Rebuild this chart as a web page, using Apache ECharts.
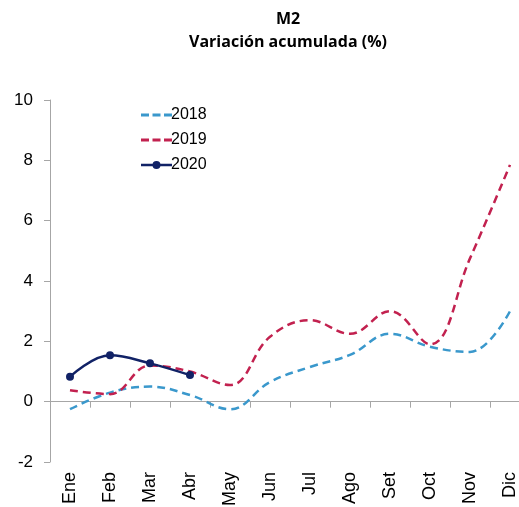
<!DOCTYPE html>
<html>
<head>
<meta charset="utf-8">
<script src="https://cdn.jsdelivr.net/npm/echarts@6/dist/echarts.min.js"></script>
<style>
  html, body { margin: 0; padding: 0; background: #fff; }
  #chart { width: 519px; height: 507px; }
</style>
</head>
<body>
<div id="chart"></div>
<script>
const meses = ['Ene', 'Feb', 'Mar', 'Abr', 'May', 'Jun', 'Jul', 'Ago', 'Set', 'Oct', 'Nov', 'Dic']
const data2018 = [-0.25, 0.3, 0.5, 0.22, -0.25, 0.65, 1.15, 1.55, 2.25, 1.82, 1.65, 3.0]
const data2019 = [0.38, 0.25, 1.2, 1.0, 0.55, 2.15, 2.7, 2.25, 3.0, 1.9, 4.75, 7.85]
const data2020 = [0.83, 1.54, 1.27, 0.88]
const yTicks = { min: -2, max: 10, interval: 2 }

// iconos de leyenda: linea discontinua / linea con punto
const iconDash = 'path://M0,0h8v3h-8z M11.5,0h8v3h-8z M23,0h8v3h-8z'
const iconDot = 'path://M0,3h12v2.5h-12z M19,3h12v2.5h-12z M11.5,4.25a4,4 0 1,1 8,0a4,4 0 1,1 -8,0z'

const chart = echarts.init(document.getElementById('chart'))
const axisColor = '#a6a6a6'
const option = {
  animation: false,
  title: {
    text: 'M2',
    subtext: 'Variación acumulada (%)',
    left: 283,
    textAlign: 'center',
    top: 6,
    itemGap: 7,
    textStyle: { fontFamily: 'Open Sans', fontWeight: 'bold', fontSize: 16, color: '#000' },
    subtextStyle: { fontFamily: 'Open Sans', fontWeight: 'bold', fontSize: 16, color: '#000' }
  },
  legend: {
    orient: 'vertical',
    left: 136,
    top: 102,
    itemWidth: 31,
    itemHeight: 14,
    itemGap: 9,
    textStyle: { fontFamily: 'Liberation Sans', fontSize: 16, color: '#000', padding: [0, 0, 0, -6] },
    data: [
      { name: '2018', icon: iconDash },
      { name: '2019', icon: iconDash },
      { name: '2020', icon: iconDot }
    ]
  },
  grid: { left: 50, top: 100, width: 480, height: 362, outerBoundsMode: 'none' },
  xAxis: [
    {
      type: 'category',
      data: meses,
      boundaryGap: true,
      axisLine: { onZero: true, lineStyle: { color: axisColor, width: 1 } },
      axisTick: { show: true, length: 6, lineStyle: { color: axisColor } },
      axisLabel: { show: false }
    },
    {
      type: 'category',
      data: meses,
      position: 'bottom',
      axisLine: { show: false },
      axisTick: { show: false },
      axisLabel: {
        rotate: 90,
        margin: 10,
        fontFamily: 'Liberation Sans',
        fontSize: 18,
        color: '#000'
      }
    }
  ],
  yAxis: {
    type: 'value',
    min: yTicks.min,
    max: yTicks.max,
    interval: yTicks.interval,
    axisLine: { show: true, lineStyle: { color: axisColor, width: 1 } },
    axisTick: { show: true, length: 6, lineStyle: { color: axisColor } },
    splitLine: { show: false },
    axisLabel: {
      margin: 17,
      fontFamily: 'Liberation Sans',
      fontSize: 17,
      color: '#000'
    }
  },
  series: [
    {
      name: '2018',
      type: 'line',
      xAxisIndex: 0,
      smooth: 0.4,
      symbol: 'none',
      data: data2018,
      itemStyle: { color: '#3a98cc' },
      lineStyle: { color: '#3a98cc', width: 2.5, type: [8, 5] }
    },
    {
      name: '2019',
      type: 'line',
      xAxisIndex: 0,
      smooth: 0.4,
      symbol: 'none',
      data: data2019,
      itemStyle: { color: '#c2214f' },
      lineStyle: { color: '#c2214f', width: 2.5, type: [8, 5] }
    },
    {
      name: '2020',
      type: 'line',
      xAxisIndex: 0,
      smooth: 0.4,
      symbol: 'circle',
      symbolSize: 8,
      data: data2020,
      itemStyle: { color: '#112266' },
      lineStyle: { color: '#112266', width: 2.5 }
    }
  ]
}
chart.setOption(option)
</script>
</body>
</html>
